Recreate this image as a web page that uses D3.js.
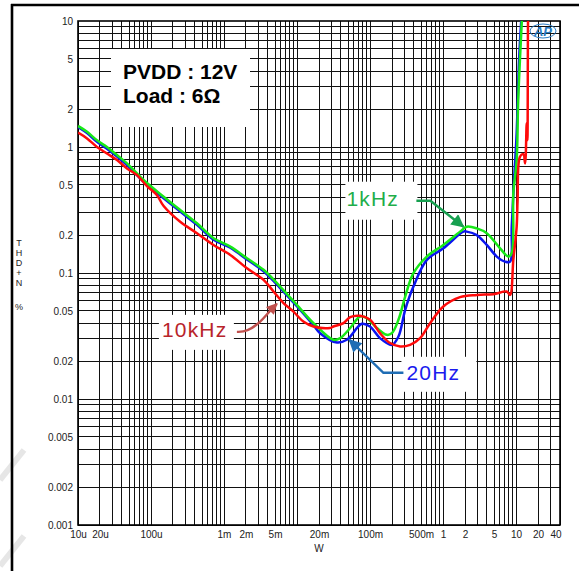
<!DOCTYPE html>
<html>
<head>
<meta charset="utf-8">
<script src="https://cdn.jsdelivr.net/npm/d3@7"></script>
<style>
  html, body { margin: 0; padding: 0; background: #fff; }
  svg { display: block; font-family: "Liberation Sans", Arial, sans-serif; }
</style>
</head>
<body>
<svg id="chart" width="579" height="571"></svg>
<script>
// axis ticks
const xTickValues = [1e-5, 2e-5, 1e-4, 1e-3, 2e-3, 5e-3, 2e-2, 0.1, 0.5, 1, 2, 5, 10, 20, 40];
const xTickLabels = ['10u', '20u', '100u', '1m', '2m', '5m', '20m', '100m', '500m', '1', '2', '5', '10', '20', '40'];
const yTickValues = [10, 5, 2, 1, 0.5, 0.2, 0.1, 0.05, 0.02, 0.01, 0.005, 0.002, 0.001];
const yTickLabels = ['10', '5', '2', '1', '0.5', '0.2', '0.1', '0.05', '0.02', '0.01', '0.005', '0.002', '0.001'];

// output power (W) and THD+N (%) per test frequency
const power20Hz = [1e-5, 1.33e-5, 1.82e-5, 2.49e-5, 3.42e-5, 4.69e-5, 7.91e-5, 1.49e-4, 2.51e-4, 4.26e-4,
  7.18e-4, 1.22e-3, 2.06e-3, 3.48e-3, 5.87e-3, 9.95e-3, 1.68e-2, 2.07e-2, 3.52e-2, 4.81e-2,
  7.73e-2, 0.100, 0.137, 0.199, 0.245, 0.303, 0.393, 0.600, 1.01, 1.90,
  2.11, 2.90, 3.97, 5.45, 7.07, 8.28, 8.73, 9.4, 10.2, 11.0, 11.9];
const thd20Hz = [1.44, 1.29, 1.10, 0.97, 0.84, 0.72, 0.53, 0.392, 0.307, 0.241,
  0.184, 0.159, 0.128, 0.103, 0.076, 0.0545, 0.0385, 0.0333, 0.0281, 0.0295,
  0.0395, 0.0376, 0.0304, 0.0269, 0.0313, 0.051, 0.078, 0.127, 0.157, 0.213,
  0.213, 0.200, 0.167, 0.135, 0.123, 0.123, 0.233, 0.547, 1.29, 4.89, 11.1];

const power1kHz = [1e-5, 1.33e-5, 1.82e-5, 2.49e-5, 3.42e-5, 4.69e-5, 7.91e-5, 1.49e-4, 2.51e-4, 4.26e-4,
  7.18e-4, 1.22e-3, 2.06e-3, 3.48e-3, 5.87e-3, 9.95e-3, 1.68e-2, 3.15e-2, 3.90e-2, 5.35e-2,
  7.31e-2, 9.03e-2, 0.124, 0.170, 0.199, 0.245, 0.303, 0.393, 0.600, 1.01,
  1.71, 2.11, 2.90, 3.97, 6.04, 7.85, 8.73, 9.18, 10.2, 10.7, 12.0, 12.3];
const thd1kHz = [1.47, 1.32, 1.13, 1.00, 0.863, 0.741, 0.547, 0.403, 0.316, 0.248,
  0.189, 0.162, 0.131, 0.106, 0.078, 0.0558, 0.040, 0.0295, 0.0304, 0.0366,
  0.0452, 0.0439, 0.0366, 0.0323, 0.0333, 0.0425, 0.065, 0.0996, 0.135, 0.167,
  0.213, 0.233, 0.226, 0.207, 0.157, 0.135, 0.144, 0.429, 0.787, 2.35, 10, 13.3];

const power10kHz = [1e-5, 1.33e-5, 1.82e-5, 2.49e-5, 3.42e-5, 4.69e-5, 6.42e-5, 8.8e-5, 1.20e-4, 1.49e-4,
  2.51e-4, 4.26e-4, 7.18e-4, 1.22e-3, 2.06e-3, 3.48e-3, 4.77e-3, 6.53e-3, 8.93e-3, 1.22e-2,
  1.68e-2, 2.84e-2, 3.15e-2, 4.33e-2, 5.35e-2, 7.31e-2, 0.100, 0.137, 0.188, 0.258,
  0.354, 0.485, 0.665, 1.01, 1.71, 2.90, 4.89, 7.46, 8.28, 9.18,
  10.2, 10.5, 11.3, 12.6, 13.3, 14.0, 14.3, 14.6, 14.8];
const thd10kHz = [1.30, 1.17, 1.00, 0.889, 0.787, 0.676, 0.599, 0.490, 0.416, 0.340,
  0.255, 0.207, 0.167, 0.139, 0.109, 0.0881, 0.0713, 0.0577, 0.0494, 0.0412,
  0.0376, 0.0366, 0.0376, 0.040, 0.0447, 0.0457, 0.0425, 0.0333, 0.0278, 0.0261,
  0.0269, 0.0304, 0.040, 0.0542, 0.0643, 0.067, 0.0679, 0.0713, 0.067, 0.127,
  0.233, 0.379, 0.836, 0.879, 0.741, 1.54, 1.13, 10.1, 13.3];

const series = [
  { name: '20Hz', power: power20Hz, thd: thd20Hz, color: '#0a14f0' },
  { name: '1kHz', power: power1kHz, thd: thd1kHz, color: '#18e818' },
  { name: '10kHz', power: power10kHz, thd: thd10kHz, color: '#ff0a0a' }
];

// label / arrow annotations, anchored on the arrow tip (data units), offsets in px
const annotations = [
  { text: '1kHz', p: 1.9, t: 0.233, textColor: '#1fae4a', arrowColor: '#17a050',
    box: [-118, -45, 72, 38], tx: -117, ty: -21, path: [[-47, -26], [-33, -26], [0, 0]], curved: false },
  { text: '10kHz', p: 5.3e-3, t: 0.0569, textColor: '#b8242a', arrowColor: '#c0504d',
    box: [-118, 11, 75, 35], tx: -115, ty: 33, path: [[-40, 28], [-30, 28], [-16, 18], [-8, 8], [0, 0]], curved: true },
  { text: '20Hz', p: 5.22e-2, t: 0.0295, textColor: '#1a1aee', arrowColor: '#1f6db4',
    box: [52, 17, 75, 35], tx: 57, ty: 40, path: [[54, 33], [34, 33], [0, 0]], curved: false }
];

const W = 579, H = 571;
const margin = { top: 21, right: 19, bottom: 46, left: 78 };
const innerWidth = W - margin.left - margin.right;
const innerHeight = H - margin.top - margin.bottom;

const svg = d3.select('#chart');
svg.append('rect').attr('width', W).attr('height', H).attr('fill', '#fff');

// faint watermark strokes at lower left
svg.append('g')
  .attr('stroke', '#e6e6e6')
  .attr('stroke-width', 6)
  .selectAll('line')
  .data([[0, 480, 24, 450], [0, 566, 24, 536]])
  .enter()
  .append('line')
  .attr('x1', d => d[0]).attr('y1', d => d[1])
  .attr('x2', d => d[2]).attr('y2', d => d[3]);

// outer frame (top and left)
svg.append('line').attr('x1', 12).attr('x2', 12).attr('y1', 4).attr('y2', H)
  .attr('stroke', '#000').attr('stroke-width', 2.6);
svg.append('line').attr('x1', 11).attr('x2', W).attr('y1', 5).attr('y2', 5)
  .attr('stroke', '#000').attr('stroke-width', 2.6);

const xScale = d3.scaleLog().domain([1e-5, 40]).range([0, innerWidth]);
const yScale = d3.scaleLog().domain([0.001, 10]).range([innerHeight, 0]);

const group = svg.append('g')
  .attr('transform', `translate(${margin.left}, ${margin.top})`);

// log grid
const xGrid = [];
for (let e = -5; e <= 1; e++) {
  for (let m = 1; m <= 9; m++) {
    const v = m * Math.pow(10, e);
    if (v <= 40) xGrid.push(v);
  }
}
const yGrid = [];
for (let e = -3; e <= 0; e++) {
  for (let m = 1; m <= 9; m++) yGrid.push(m * Math.pow(10, e));
}

const grid = group.append('g')
  .attr('stroke', '#111')
  .attr('stroke-width', 1)
  .attr('shape-rendering', 'crispEdges');

grid.selectAll('.vx')
  .data(xGrid)
  .enter()
  .append('line')
  .attr('class', 'vx')
  .attr('x1', d => xScale(d)).attr('x2', d => xScale(d))
  .attr('y1', 0).attr('y2', innerHeight);

grid.selectAll('.hy')
  .data(yGrid)
  .enter()
  .append('line')
  .attr('class', 'hy')
  .attr('y1', d => yScale(d)).attr('y2', d => yScale(d))
  .attr('x1', 0).attr('x2', innerWidth);

group.append('rect')
  .attr('width', innerWidth)
  .attr('height', innerHeight)
  .attr('fill', 'none')
  .attr('stroke', '#000')
  .attr('stroke-width', 1.6);

// axes
const xAxis = d3.axisBottom(xScale)
  .tickValues(xTickValues)
  .tickFormat((d, i) => xTickLabels[i])
  .tickSize(0)
  .tickPadding(0);

group.append('g')
  .attr('transform', `translate(0, ${innerHeight})`)
  .attr('font-family', '"Liberation Sans", Arial, sans-serif')
  .attr('font-size', 10)
  .call(xAxis)
  .call(g => g.select('.domain').remove())
  .selectAll('text')
  .attr('dy', null)
  .attr('y', 12.5)
  .attr('fill', '#222')
  .filter((d, i) => i === xTickValues.length - 1)
  .attr('text-anchor', 'end')
  .attr('x', 1);

const yAxis = d3.axisLeft(yScale)
  .tickValues(yTickValues)
  .tickFormat((d, i) => yTickLabels[i])
  .tickSize(0)
  .tickPadding(5);

group.append('g')
  .attr('font-family', '"Liberation Sans", Arial, sans-serif')
  .attr('font-size', 10)
  .call(yAxis)
  .call(g => g.select('.domain').remove())
  .selectAll('text')
  .attr('dy', null)
  .attr('y', 3.5)
  .attr('fill', '#222');

// axis titles
svg.append('text')
  .attr('x', margin.left + innerWidth / 2)
  .attr('y', 552)
  .attr('text-anchor', 'middle')
  .attr('font-size', 10)
  .attr('fill', '#222')
  .text('W');

const yTitle = ['T', 'H', 'D', '+', 'N'];
svg.append('g')
  .selectAll('text')
  .data(yTitle)
  .enter()
  .append('text')
  .attr('x', 19)
  .attr('y', (d, i) => 246 + i * 9.9)
  .attr('text-anchor', 'middle')
  .attr('font-size', 9)
  .attr('fill', '#222')
  .text(d => d);
svg.append('text')
  .attr('x', 19)
  .attr('y', 310)
  .attr('text-anchor', 'middle')
  .attr('font-size', 9)
  .attr('fill', '#222')
  .text('%');

// condition box
group.append('rect')
  .attr('x', 33).attr('y', 28)
  .attr('width', 139).attr('height', 78)
  .attr('fill', '#fff');
group.append('text')
  .attr('x', 45).attr('y', 57.5)
  .attr('font-size', 21).attr('font-weight', 'bold')
  .text('PVDD : 12V');
group.append('text')
  .attr('x', 45).attr('y', 82)
  .attr('font-size', 21).attr('font-weight', 'bold')
  .text('Load : 6Ω');

// AP logo
const logo = group.append('g')
  .attr('transform', `translate(${innerWidth - 17}, 10)`);
logo.append('ellipse')
  .attr('rx', 13).attr('ry', 7)
  .attr('fill', 'none')
  .attr('stroke', '#2b7cc4')
  .attr('stroke-width', 1);
logo.append('text')
  .attr('y', 5)
  .attr('text-anchor', 'middle')
  .attr('font-size', 13)
  .attr('font-style', 'italic')
  .attr('font-weight', 'bold')
  .attr('fill', '#2b7cc4')
  .text('AP');

// curves
const clipId = 'plot-clip';
svg.append('defs').append('clipPath').attr('id', clipId)
  .append('rect').attr('width', innerWidth).attr('height', innerHeight);

const line = d3.line()
  .x(d => xScale(d[0]))
  .y(d => yScale(d[1]))
  .curve(d3.curveCatmullRom.alpha(0.5));

group.append('g')
  .attr('clip-path', `url(#${clipId})`)
  .selectAll('path')
  .data(series)
  .enter()
  .append('path')
  .attr('fill', 'none')
  .attr('stroke', d => d.color)
  .attr('stroke-width', 2.5)
  .attr('stroke-linejoin', 'round')
  .attr('d', d => line(d.power.map((p, i) => [p, d.thd[i]])));

// annotations
const defs = svg.select('defs');
annotations.forEach((a, k) => {
  defs.append('marker')
    .attr('id', `head${k}`)
    .attr('viewBox', '0 0 10 10')
    .attr('refX', 9).attr('refY', 5)
    .attr('markerUnits', 'userSpaceOnUse')
    .attr('markerWidth', k === 1 ? 12 : 15)
    .attr('markerHeight', k === 1 ? 11 : 13)
    .attr('orient', 'auto')
    .append('path')
    .attr('d', 'M0,0L10,5L0,10z')
    .attr('fill', a.arrowColor);

  const g = group.append('g')
    .attr('transform', `translate(${xScale(a.p)}, ${yScale(a.t)})`);
  g.append('rect')
    .attr('x', a.box[0]).attr('y', a.box[1])
    .attr('width', a.box[2]).attr('height', a.box[3])
    .attr('fill', '#fff');
  g.append('text')
    .attr('x', a.tx).attr('y', a.ty)
    .attr('font-size', 21)
    .attr('letter-spacing', 1.2)
    .attr('fill', a.textColor)
    .text(a.text);
  const arrowLine = d3.line().curve(a.curved ? d3.curveBasis : d3.curveLinear);
  g.append('path')
    .attr('d', arrowLine(a.path))
    .attr('fill', 'none')
    .attr('stroke', a.arrowColor)
    .attr('stroke-width', 2.4)
    .attr('marker-end', `url(#head${k})`);
});
</script>
</body>
</html>
